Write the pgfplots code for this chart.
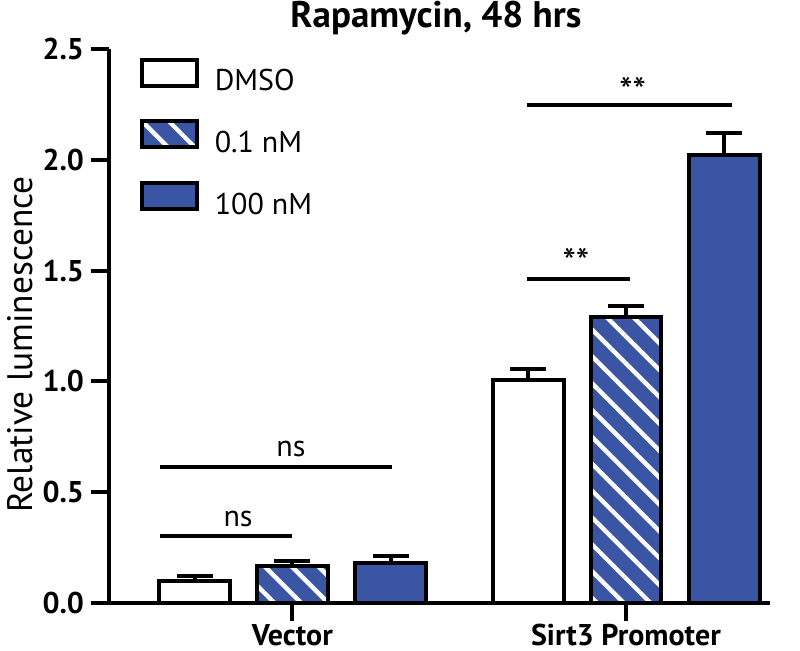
\documentclass[border=0pt]{standalone}
\usepackage{fontspec}
\setmainfont{PT Sans}
\usepackage{pgfplots}
\usepackage{pgfplotstable}
\pgfplotsset{compat=1.18}
\usetikzlibrary{patterns.meta}
\definecolor{barblue}{RGB}{58,85,163}

\pgfplotstableread{
x y e
1 0.100 0.020
2 1.005 0.050
}\dmso
\pgfplotstableread{
x y e
1 0.167 0.022
2 1.290 0.050
}\low
\pgfplotstableread{
x y e
1 0.182 0.030
2 2.020 0.100
}\high

\pgfplotsset{errs/.style={error bars/.cd, y dir=plus, y explicit,
    error bar style={line width=2pt, black},
    error mark options={rotate=90, mark size=9pt, line width=2pt, black}}}

\begin{document}
\begin{tikzpicture}
\useasboundingbox (-54.5pt,-24pt) rectangle (345.5pt,301.5pt);
\begin{axis}[
  at={(0pt,0pt)}, anchor=south west,
  scale only axis, width=330.5pt, height=277pt,
  xmin=0.45, xmax=2.432, ymin=0, ymax=2.5,
  enlarge x limits=false, enlarge y limits=false,
  clip=false,
  axis lines=left,
  axis line style={-, line width=2pt, black},
  ybar, bar width=0.212,
  xtick={1,2}, xticklabels={Vector, Sirt3 Promoter},
  ytick={0,0.5,1,1.5,2,2.5},
  tick align=outside, major tick length=9pt,
  major tick style={line width=2pt, black},
  /pgf/number format/assume math mode=true,
  yticklabel style={/pgf/number format/.cd, fixed, fixed zerofill, precision=1, /tikz/.cd, font=\bfseries\fontsize{15}{15}\selectfont},
  xticklabel style={font=\bfseries\fontsize{15}{15}\selectfont, yshift=2pt},
  ylabel={Relative luminescence},
  ylabel style={at={(axis description cs:-0.135,0.467)}, anchor=center, font=\fontsize{17.7}{17.7}\selectfont},
  title={Rapamycin, 48 hrs},
  title style={at={(axis description cs:0.4947,1.0379)}, anchor=base, yshift=-6pt, font=\bfseries\fontsize{18.5}{18.5}\selectfont},
  legend image code/.code={\draw[#1] (0pt,-2pt) rectangle (27.5pt,11pt);},
  legend style={at={(axis description cs:0.046,0.985)}, anchor=north west, draw=none, fill=none, inner sep=0pt, row sep=12.75pt,
    font=\fontsize{15}{15}\selectfont, nodes={inner xsep=8pt, inner ysep=0pt}},
  legend cell align=left,
]
\addplot[draw=black, line width=2pt, fill=white, bar shift=-0.293, errs] table[x=x, y=y, y error=e] {\dmso};
\addlegendentry{DMSO}
\addplot[draw=black, line width=2pt, preaction={fill=barblue}, pattern={Lines[angle=-45,distance=9.5pt,line width=2.2pt]}, pattern color=white, bar shift=0, errs] table[x=x, y=y, y error=e] {\low};
\addlegendentry{0.1 nM}
\addplot[draw=black, line width=2pt, fill=barblue, bar shift=0.295, errs] table[x=x, y=y, y error=e] {\high};
\addlegendentry{100 nM}

\addplot[sharp plot, no markers, black, line width=2pt, forget plot] coordinates {(0.603,0.302) (0.999,0.302)};
\addplot[sharp plot, no markers, black, line width=2pt, forget plot] coordinates {(0.603,0.614) (1.298,0.614)};
\addplot[sharp plot, no markers, black, line width=2pt, forget plot] coordinates {(1.703,1.462) (2.012,1.462)};
\addplot[sharp plot, no markers, black, line width=2pt, forget plot] coordinates {(1.703,2.247) (2.318,2.247)};

\node[anchor=base, font=\fontsize{15}{15}\selectfont] at (axis cs:0.837,0.343) {ns};
\node[anchor=base, font=\fontsize{15}{15}\selectfont] at (axis cs:0.9955,0.659) {ns};
\node[anchor=center, font=\fontsize{19}{19}\selectfont] at (axis cs:1.85,1.539) {**};
\node[anchor=center, font=\fontsize{19}{19}\selectfont] at (axis cs:2.02,2.31) {**};
\end{axis}
\end{tikzpicture}
\end{document}
